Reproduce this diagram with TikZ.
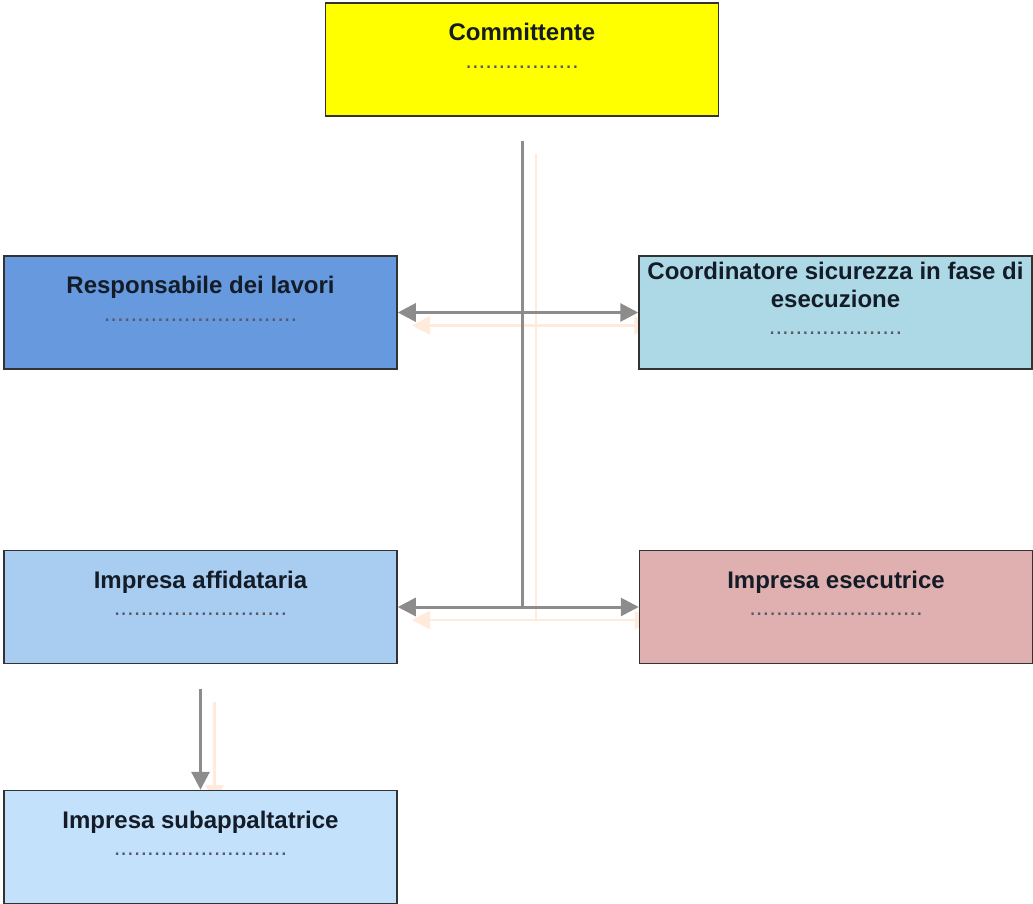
\documentclass[tikz,border=0pt]{standalone}
\usepackage{fontspec}
\setmainfont{Liberation Sans}
\usetikzlibrary{arrows.meta, backgrounds}

\definecolor{boxline}{HTML}{333333}
\definecolor{linkgray}{HTML}{8C8C8C}
\definecolor{shadoworange}{RGB}{255,234,220}
\definecolor{dotgray}{HTML}{555A66}
\definecolor{textdark}{HTML}{141C28}
\definecolor{cmyellow}{HTML}{FFFF00}
\definecolor{rlblue}{HTML}{6699DD}
\definecolor{csblue}{HTML}{ADD8E6}
\definecolor{iablue}{HTML}{A8CDF0}
\definecolor{iered}{HTML}{E0B0B0}
\definecolor{sablue}{HTML}{C4E1FC}

\newcommand\dotsrow[1]{{\mdseries\color{dotgray}\foreach \k in {1,...,#1}{.}}}

\tikzset{
    box/.style={draw=boxline, line width=1.5pt, rectangle, minimum width=393pt,
        minimum height=113pt, inner sep=0pt, align=center, text=textdark,
        font=\fontsize{24}{27.5}\selectfont\bfseries},
    link/.style={draw=linkgray, line width=3pt},
    shade/.style={draw=shadoworange, line width=2.5pt},
    tip/.style={-{Triangle[length=18pt,width=18pt]}},
    tips/.style={{Triangle[length=18pt,width=18pt]}-{Triangle[length=18pt,width=18pt]}},
}

\begin{document}
\begin{tikzpicture}[x=1pt, y=-1pt]
    \useasboundingbox (0,0) rectangle (1033,904);

    % boxes
    \node[box, fill=cmyellow] (cm) at (522,59.5) {Committente\\ \dotsrow{17}\\ ~};
    \node[box, fill=rlblue] (rl) at (200.5,312.5) {Responsabile dei lavori\\ \dotsrow{29}\\ ~};
    \node[box, fill=csblue] (cs) at (835.5,312.5) {Coordinatore sicurezza in fase di\\ esecuzione\\ \dotsrow{20}\\ ~};
    \node[box, fill=iablue] (ia) at (200.5,607) {Impresa affidataria\\ \dotsrow{26}\\ ~};
    \node[box, fill=iered] (ie) at (836,607) {Impresa esecutrice\\ \dotsrow{26}\\ ~};
    \node[box, fill=sablue] (sa) at (200.5,847) {Impresa subappaltatrice\\ \dotsrow{26}\\ ~};

    % faint shadow of the connectors, under the boxes
    \begin{pgfonlayer}{background}
    \begin{scope}[transform canvas={xshift=14pt, yshift=-13pt}]
        \draw[shade] ([yshift=-24pt]cm.south) -- (cm.south |- ia.east);
        \draw[shade, tips] (rl.east) -- (cs.west);
        \draw[shade, tips] (ia.east) -- (ie.west);
        \draw[shade, tip, shorten <=25pt] (ia.south) -- (sa.north);
    \end{scope}
    \end{pgfonlayer}

    % connectors
    \draw[link] ([yshift=-24pt]cm.south) -- (cm.south |- ia.east);
    \draw[link, tips] (rl.east) -- (cs.west);
    \draw[link, tips] (ia.east) -- (ie.west);
    \draw[link, tip, shorten <=25pt] (ia.south) -- (sa.north);
\end{tikzpicture}
\end{document}
